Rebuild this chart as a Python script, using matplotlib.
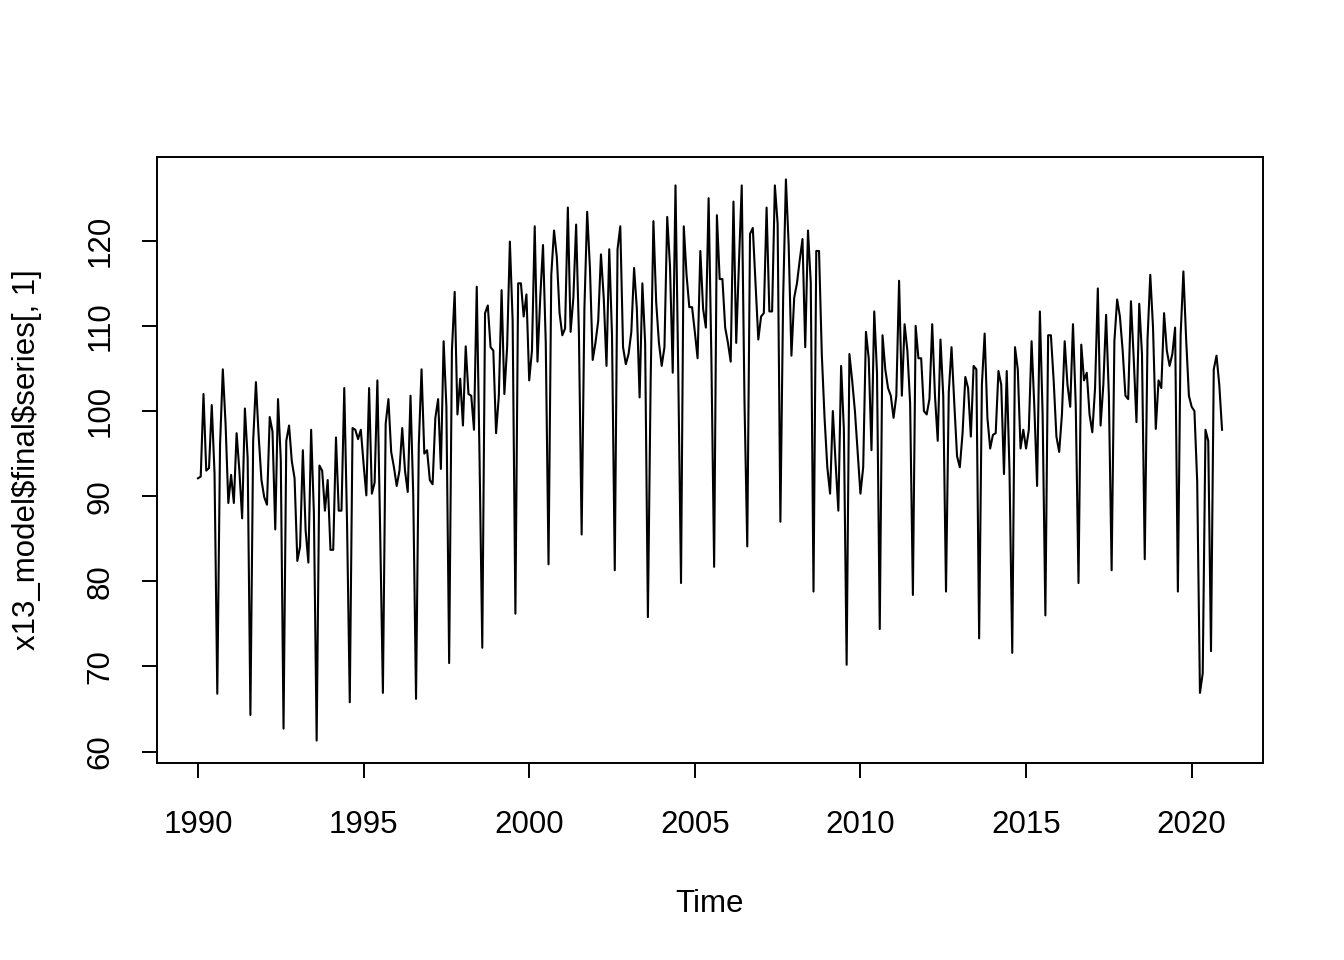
import numpy as np
import matplotlib
matplotlib.use("Agg")
import matplotlib.pyplot as plt

plt.rcParams['font.family'] = ['Liberation Sans', 'DejaVu Sans']

# monthly series, Jan 1990 - Dec 2020 (one row per year)
start_year = 1990
freq = 12
series = [
    92.1, 92.3, 102.0, 93.0, 93.3, 100.7, 92.7, 66.8, 96.0, 104.9, 98.5, 89.2,
    92.5, 89.2, 97.4, 93.0, 87.4, 100.3, 94.5, 64.3, 96.5, 103.4, 97.0, 91.9,
    89.9, 89.0, 99.3, 97.6, 86.1, 101.4, 94.3, 62.7, 96.5, 98.3, 94.1, 92.1,
    82.4, 84.1, 95.4, 86.0, 82.2, 97.8, 88.0, 61.3, 93.6, 93.0, 88.3, 91.9,
    83.7, 83.7, 96.9, 88.3, 88.3, 102.7, 87.0, 65.8, 98.0, 97.8, 96.7, 97.8,
    93.8, 90.1, 102.7, 90.3, 91.6, 103.6, 86.0, 66.9, 98.5, 101.4, 95.2, 93.4,
    91.2, 93.0, 98.0, 93.0, 90.5, 101.8, 90.0, 66.2, 96.0, 104.9, 95.0, 95.4,
    91.9, 91.4, 99.2, 101.4, 93.2, 108.2, 100.5, 70.4, 107.1, 114.0, 99.6, 103.8,
    98.3, 107.6, 102.0, 101.8, 97.8, 114.6, 94.7, 72.2, 111.5, 112.4, 107.5, 107.1,
    97.4, 101.8, 114.2, 102.0, 107.5, 119.9, 110.6, 76.2, 115.0, 115.0, 111.1, 113.7,
    103.6, 107.1, 121.7, 105.8, 113.3, 119.5, 108.0, 82.0, 116.0, 121.2, 118.1, 111.5,
    108.9, 109.7, 123.9, 109.3, 113.3, 121.9, 109.3, 85.5, 112.0, 123.4, 116.8, 106.0,
    108.0, 110.6, 118.4, 113.3, 105.3, 119.0, 108.9, 81.3, 119.0, 121.7, 107.5, 105.5,
    106.7, 109.3, 116.8, 112.0, 101.6, 115.0, 108.0, 75.8, 103.6, 122.3, 112.8, 108.0,
    105.3, 107.5, 122.8, 117.1, 104.5, 126.5, 104.5, 79.8, 121.7, 116.0, 112.2, 112.2,
    109.3, 106.2, 118.8, 112.0, 109.8, 125.0, 106.2, 81.7, 123.0, 115.5, 115.5, 109.8,
    108.0, 105.8, 124.6, 108.0, 117.5, 126.5, 101.0, 84.1, 120.8, 121.5, 115.0, 108.4,
    111.1, 111.5, 123.9, 111.7, 111.7, 126.5, 122.0, 87.0, 113.3, 127.2, 119.5, 106.5,
    113.3, 115.0, 117.7, 120.2, 107.5, 121.2, 115.1, 78.8, 118.8, 118.8, 106.7, 99.2,
    93.4, 90.3, 100.0, 93.9, 88.3, 105.3, 97.8, 70.2, 106.7, 103.6, 100.0, 95.2,
    90.3, 93.4, 109.3, 106.2, 95.4, 111.7, 104.5, 74.4, 108.9, 104.9, 102.7, 101.8,
    99.2, 101.8, 115.3, 101.8, 110.2, 107.1, 100.9, 78.4, 110.0, 106.2, 106.2, 100.0,
    99.6, 101.4, 110.2, 101.8, 96.5, 108.4, 101.8, 78.8, 102.2, 107.5, 100.9, 94.7,
    93.4, 97.4, 104.0, 102.7, 97.0, 105.3, 104.9, 73.3, 103.1, 109.1, 99.2, 95.6,
    97.2, 97.4, 104.7, 103.1, 92.6, 104.7, 93.0, 71.6, 107.5, 104.9, 95.6, 97.8,
    95.6, 97.8, 108.2, 100.5, 91.2, 111.7, 99.6, 76.0, 108.9, 108.9, 103.6, 97.0,
    95.2, 99.6, 108.2, 103.1, 100.5, 110.2, 100.7, 79.8, 107.8, 103.6, 104.5, 99.6,
    97.5, 102.7, 114.4, 98.3, 103.1, 111.3, 101.8, 81.3, 108.2, 113.1, 111.1, 107.1,
    101.8, 101.4, 112.9, 106.2, 98.7, 112.6, 106.7, 82.6, 108.4, 116.0, 109.8, 97.9,
    103.6, 102.7, 111.5, 107.1, 105.3, 106.7, 109.8, 78.8, 108.9, 116.4, 108.4, 101.8,
    100.5, 100.0, 91.7, 66.9, 69.2, 97.8, 96.5, 71.8, 104.9, 106.5, 103.1, 97.8,
]
xticks = [1990, 1995, 2000, 2005, 2010, 2015, 2020]
yticks = [60, 70, 80, 90, 100, 110, 120]

t = start_year + np.arange(len(series)) / freq
y = np.array(series)

fig = plt.figure(figsize=(13.44, 9.6), dpi=100)
ax = fig.add_axes([157/1344, 1 - 763/960, 1106/1344, 606/960])

ax.plot(t, y, color='black', lw=1.5)

# R style axis padding (4%)
xpad = 0.04 * (t.max() - t.min())
ypad = 0.04 * (y.max() - y.min())
ax.set_xlim(t.min() - xpad, t.max() + xpad)
ax.set_ylim(y.min() - ypad, y.max() + ypad)

ax.set_xticks(xticks)
ax.set_yticks(yticks)
ax.tick_params(axis='both', length=11, width=1.4, labelsize=22.5, color='black')
ax.tick_params(axis='x', pad=23)
ax.tick_params(axis='y', pad=19, labelrotation=90)
for lab in ax.get_yticklabels():
    lab.set_va('center')

for s in ax.spines.values():
    s.set_linewidth(1.4)

ax.set_xlabel('Time', fontsize=22.5, labelpad=35)
ax.set_ylabel('x13_model\\$final\\$series[, 1]', fontsize=22.5, labelpad=31)

fig.savefig('out.png', dpi=100)
